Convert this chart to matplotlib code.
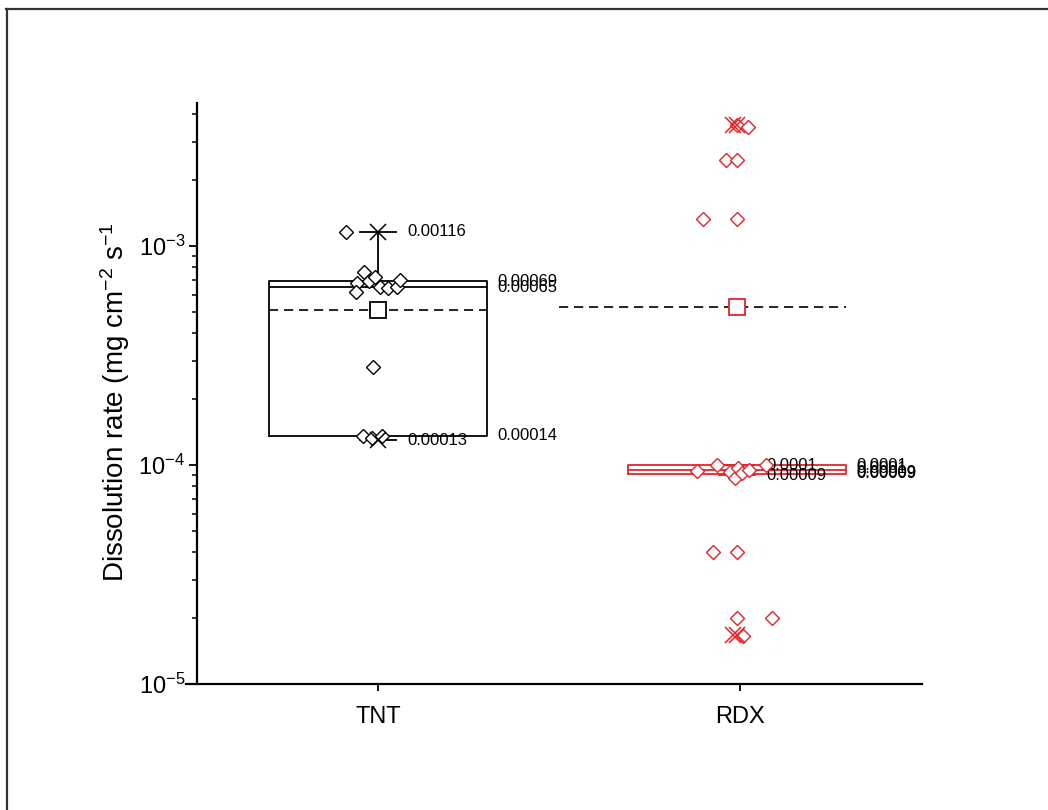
import numpy as np
import matplotlib
matplotlib.use('Agg')
import matplotlib.pyplot as plt
from matplotlib.lines import Line2D
from matplotlib.ticker import LogLocator, NullFormatter, LogFormatterSciNotation

plt.rcParams['font.family'] = ['Liberation Sans', 'DejaVu Sans']
plt.rcParams['mathtext.fontset'] = 'custom'
plt.rcParams['mathtext.rm'] = 'Liberation Sans'
plt.rcParams['mathtext.it'] = 'Liberation Sans:italic'
plt.rcParams['mathtext.bf'] = 'Liberation Sans:bold'

# ---------------- data ----------------
categories = ['TNT', 'RDX']
positions = [1, 2]
box_positions = [1.0, 1.992]
colors = ['black', '#E3242B']

tnt_x = [0.912, 0.942, 0.961, 0.939, 0.975, 0.992, 1.006, 1.028, 1.052, 1.061,
         0.986, 0.959, 0.983, 1.011]
tnt_y = [0.00116, 0.000678, 0.00076, 0.00062, 0.000692, 0.000722, 0.00065,
         0.000643, 0.00065, 0.000699, 0.00028, 0.000135, 0.000133, 0.000136]

rdx_x = [1.992, 2.022, 1.962, 1.992, 1.898, 1.992, 1.882, 1.937, 1.972, 1.987,
         1.995, 2.006, 2.025, 2.072, 1.926, 1.992, 1.992, 2.089, 2.009]
rdx_y = [0.00357, 0.0035, 0.00247, 0.00247, 0.00133, 0.00133, 0.0000939,
         0.0001, 0.000093, 0.0000872, 0.0000969, 0.0000919, 0.0000949, 0.0001,
         0.00004, 0.00004, 0.00002, 0.00002, 0.0000165]

# box statistics
box_q1 = [0.000136, 0.0000910]
box_med = [0.00065, 0.0000949]
box_q3 = [0.00069, 0.0001]
whisk_lo = [0.00013, 0.00009]
whisk_hi = [0.00116, 0.0001]
means = [0.000511, 0.000526]
mean_line_x = [(0.7, 1.3), (1.5, 2.292)]

# extreme (1% / 99%) markers
ext_x = [[1.0, 1.0], [1.98, 1.992, 1.98, 1.992]]
ext_y = [[0.00116, 0.00013], [0.00357, 0.00357, 0.0000168, 0.0000168]]

# labels
whisk_labels = [('0.00116', '0.00013'), ('0.0001', '0.00009')]
right_labels = [[('0.00069', 0.00069), ('0.00065', 0.00065), ('0.00014', 0.000136)],
                [('0.0001', 0.0001), ('0.0001', 0.0000965), ('0.00009', 0.0000925),
                 ('0.00009', 0.0000910)]]

# ---------------- figure ----------------
fig = plt.figure(figsize=(10.48, 8.10), dpi=100)
fig.add_artist(Line2D([6/1048, 1.0], [1-9/810, 1-9/810], transform=fig.transFigure,
                      color='#333333', lw=1.6))
fig.add_artist(Line2D([7/1048, 7/1048], [0, 1-9/810], transform=fig.transFigure,
                      color='#333333', lw=1.6))

ax = fig.add_axes([186/1048, 1-684/810, 736/1048, 581/810])
ax.set_yscale('log')
ax.set_xlim(0.4696, 2.503)
ax.set_ylim(1e-5, 0.0045)

box_w = 0.6
cap_w = 0.1
for i, pos in enumerate(box_positions):
    c = colors[i]
    stats = [dict(med=box_med[i], q1=box_q1[i], q3=box_q3[i],
                  whislo=whisk_lo[i], whishi=whisk_hi[i], fliers=[])]
    ax.bxp(stats, positions=[pos], widths=box_w, capwidths=cap_w,
           showfliers=False, manage_ticks=False,
           boxprops=dict(color=c, lw=1.3),
           medianprops=dict(color=c, lw=1.3),
           whiskerprops=dict(color=c, lw=1.3),
           capprops=dict(color=c, lw=1.3))
    # mean line and mean marker
    ax.hlines(means[i], mean_line_x[i][0], mean_line_x[i][1], colors='black',
              lw=1.2, linestyles=(0, (5.5, 3.5)), zorder=3)
    ax.plot([pos], [means[i]], marker='s', ms=11, mfc='white', mec=c, mew=1.3,
            ls='none', zorder=5)
    # extremes
    ax.plot(ext_x[i], ext_y[i], marker='x', ms=12, mec=c, mew=1.1, ls='none', zorder=6)
    # whisker labels
    ax.annotate(whisk_labels[i][0], xy=(pos + cap_w/2, whisk_hi[i]), xytext=(8, 0),
                textcoords='offset points', va='center', ha='left', fontsize=12)
    ax.annotate(whisk_labels[i][1], xy=(pos + cap_w/2, whisk_lo[i]), xytext=(8, 0),
                textcoords='offset points', va='center', ha='left', fontsize=12)
    for txt, val in right_labels[i]:
        ax.annotate(txt, xy=(pos + box_w/2, val), xytext=(8, 0),
                    textcoords='offset points', va='center', ha='left', fontsize=12)

ax.plot(tnt_x, tnt_y, marker='D', ms=7.5, mfc='white', mec=colors[0], mew=1.0,
        ls='none', zorder=4)
ax.plot(rdx_x, rdx_y, marker='D', ms=7.0, mfc='white', mec=colors[1], mew=1.0,
        ls='none', zorder=4)

# axes styling
ax.spines['top'].set_visible(False)
ax.spines['right'].set_visible(False)
ax.spines['left'].set_position(('data', 0.5))
ax.spines['left'].set_linewidth(1.6)
ax.spines['bottom'].set_linewidth(1.6)

ax.yaxis.set_major_locator(LogLocator(base=10, numticks=10))
ax.yaxis.set_minor_locator(LogLocator(base=10, subs=np.arange(2, 10), numticks=20))
ax.yaxis.set_minor_formatter(NullFormatter())
ax.yaxis.set_major_formatter(LogFormatterSciNotation())
ax.tick_params(axis='y', which='major', length=5.5, width=1.3, labelsize=17, pad=3,
               direction='out')
ax.tick_params(axis='y', which='minor', length=3.5, width=1.1, direction='out')

ax.set_xticks(positions)
ax.set_xticklabels(categories)
ax.tick_params(axis='x', which='major', length=5, width=1.3, labelsize=17, pad=11,
               direction='out')
ax.tick_params(axis='x', which='minor', bottom=False)

ax.set_ylabel('Dissolution rate (mg cm$^{-2}$ s$^{-1}$', fontsize=20)
ax.yaxis.set_label_coords(-0.074, 0.485)

fig.savefig('out.png', dpi=100)
